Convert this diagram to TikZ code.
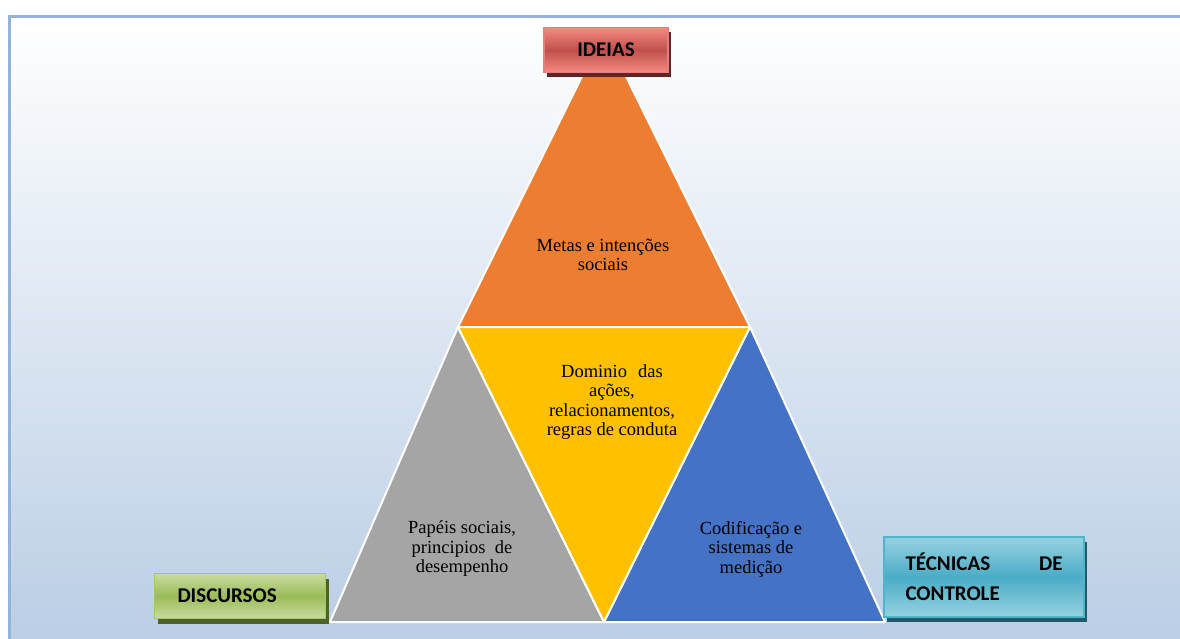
\documentclass[tikz,border=0pt]{standalone}
\usepackage{fontspec}
\setmainfont{Liberation Serif}
\newfontfamily\labelfont{Carlito}
\usetikzlibrary{positioning, shadows}

\definecolor{frameblue}{HTML}{95B3D7}
\definecolor{bgblue}{HTML}{B9CDE5}
\definecolor{metasorange}{HTML}{ED7D31}
\definecolor{dominioyellow}{HTML}{FFC000}
\definecolor{papeisgray}{HTML}{A5A5A5}
\definecolor{codifblue}{HTML}{4472C4}

\newcommand{\labelheight}{45pt}
\newcommand{\bodyfont}{\fontsize{18.5}{19.5}\selectfont}

\tikzstyle{label} = [% bold title boxes round the triangle
  rectangle,
  minimum height=\labelheight,
  text centered,
  line width=1.5pt,
  font=\labelfont\bfseries\fontsize{21}{30}\selectfont
  ]
\tikzstyle{redlabel} = [% top vertex
  label,
  draw=red!45!white!90!black,
  top color=red!45!white!85!brown, bottom color=red!45!white!85!brown,
  middle color={rgb,255:red,192;green,80;blue,77},
  drop shadow={shadow xshift=3pt, shadow yshift=-5pt, fill={rgb,255:red,99;green,36;blue,35}, opacity=1}
  ]
\tikzstyle{greenlabel} = [% bottom left vertex
  label,
  draw={rgb,255:red,160;green,200;blue,100},
  top color={rgb,255:red,200;green,220;blue,160}, bottom color={rgb,255:red,200;green,220;blue,160},
  middle color={rgb,255:red,155;green,187;blue,89},
  drop shadow={shadow xshift=3pt, shadow yshift=-5pt, fill={rgb,255:red,79;green,98;blue,40}, opacity=1}
  ]
\tikzstyle{bluelabel} = [% bottom right vertex
  label,
  draw={rgb,255:red,80;green,180;blue,205},
  top color={rgb,255:red,150;green,210;blue,225}, bottom color={rgb,255:red,150;green,210;blue,225},
  middle color={rgb,255:red,75;green,172;blue,198},
  drop shadow={shadow xshift=3pt, shadow yshift=-5pt, fill={rgb,255:red,33;green,89;blue,104}, opacity=1}
  ]
\tikzstyle{part} = [% one of the four triangles
  draw=white,
  line width=2pt,
  line join=round
  ]
\tikzstyle{body} = [% text inside a triangle
  align=center,
  font=\bodyfont,
  text=black
  ]

\begin{document}
\begin{tikzpicture}[x=1pt, y=-1pt]

%%% Frame
\useasboundingbox (0,0) rectangle (1180,639);
\shade[top color=white, bottom color=bgblue] (9,17) rectangle (1195,650);
\draw[frameblue, line width=3pt] (9,650) -- (9,17) -- (1195,17);

%%% Triangle corners
\coordinate (apex) at (604,32);
\coordinate (lmid) at (458,327);
\coordinate (rmid) at (750,327);
\coordinate (bleft) at (330,622);
\coordinate (bmid) at (604,622);
\coordinate (bright) at (885,622);

%%% Triangles
\filldraw[part, fill=metasorange] (lmid) -- (apex) -- (rmid) -- cycle;
\filldraw[part, fill=papeisgray] (bleft) -- (lmid) -- (bmid) -- cycle;
\filldraw[part, fill=codifblue] (bmid) -- (rmid) -- (bright) -- cycle;
\filldraw[part, fill=dominioyellow] (lmid) -- (rmid) -- (bmid) -- cycle;

%%% Texts
\node[body] (metas) at (603,255) {Metas e intenções\\sociais};
\node[body] (dominio) at (612,402) {Dominio\hspace{0.6em}das\\ações,\\relacionamentos,\\regras de conduta};
\node[body] (papeis) at (462,549) {Papéis sociais,\\principios\hspace{0.5em}de\\desempenho};
\node[body] (codif) at (751,549) {Codificação e\\sistemas de\\medição};

%%% Labels
\node[redlabel, minimum width=124pt, text depth=0pt] (ideias) at (606,50) {IDEIAS};
\node[greenlabel, text width=125pt, inner xsep=23pt, align=left] (discursos) at (240,596) {DISCURSOS};
\node[bluelabel, minimum width=200pt, minimum height=80pt, text width=157pt, align=left] (tecnicas) at (984,577) {TÉCNICAS \hfill DE\\CONTROLE};

\end{tikzpicture}
\end{document}
